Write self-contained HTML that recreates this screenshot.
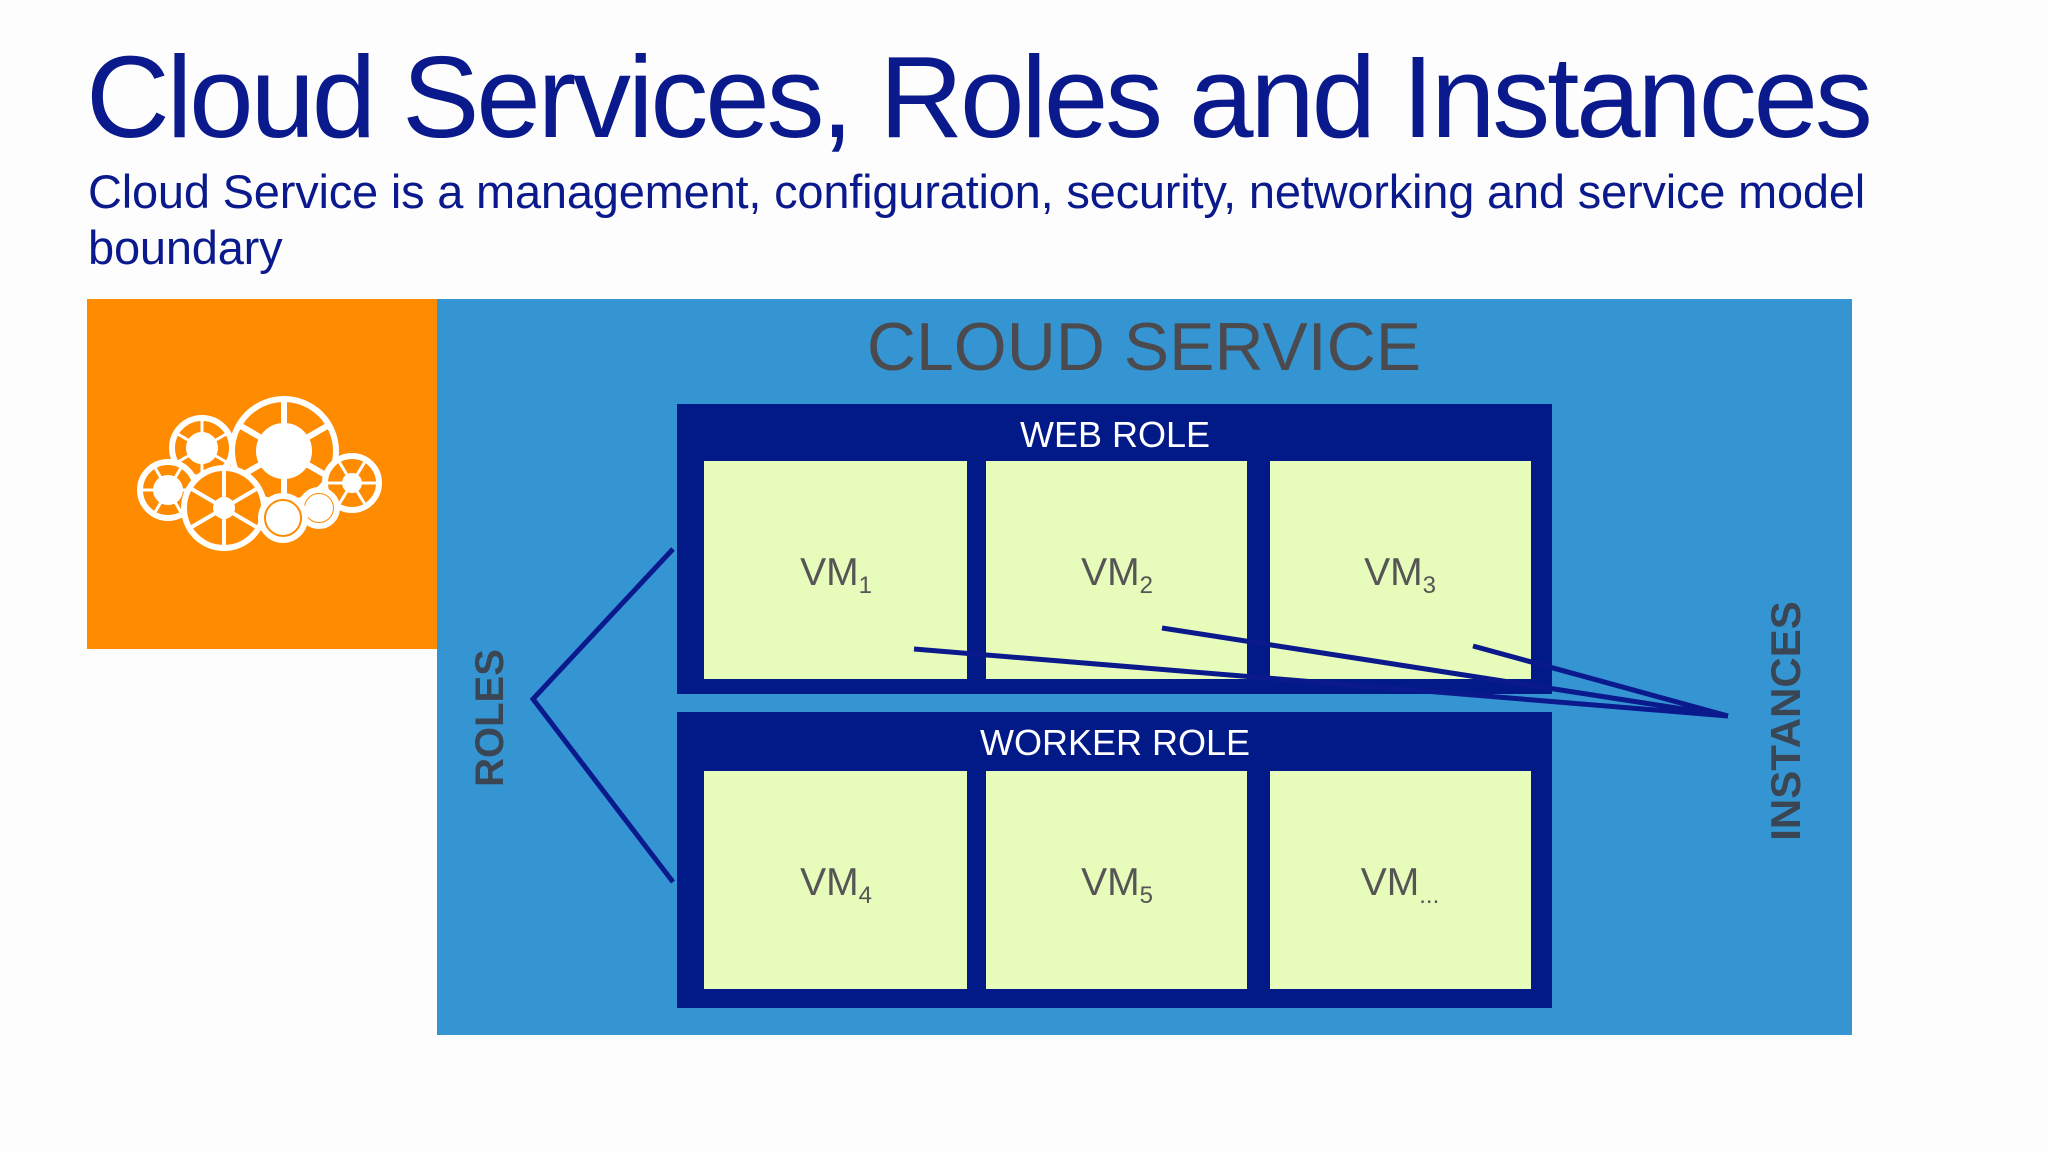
<!DOCTYPE html>
<html><head><style>
body{margin:0;width:2048px;height:1152px;background:#fdfdfd;position:relative;overflow:hidden;font-family:"Liberation Sans",Arial,sans-serif}
.t{position:absolute;color:#0a1a8c;white-space:nowrap}
</style></head><body>
<div class="t" style="left:86px;top:30px;font-size:116px;letter-spacing:-3.2px">Cloud Services, Roles and Instances</div>
<div class="t" style="left:88px;top:164px;font-size:47px;letter-spacing:-0.2px;line-height:56px">Cloud Service is a management, configuration, security, networking and service model<br>boundary</div>
<svg width="2048" height="1152" style="position:absolute;left:0;top:0" font-family="Liberation Sans, DejaVu Sans, sans-serif">
<rect x="87" y="299" width="350" height="350" fill="#fe8b00"/>
<rect x="437" y="299" width="1415" height="736" fill="#3595d3"/>
<g stroke="#fff" fill="#fe8b00" stroke-width="6">
<g><circle cx="202" cy="448" r="30"/><circle cx="202" cy="448" r="13" fill="#fff"/><path d="M202 418v60M176 433l52 30M176 463l52-30" stroke-width="3"/></g>
<g><circle cx="284" cy="451" r="52"/><path d="M284 399v104M239 425l90 52M239 477l90-52" stroke-width="6"/><circle cx="284" cy="451" r="25" fill="#fff"/></g>
<g><circle cx="168" cy="490" r="28"/><path d="M140 490h56M154 466l28 48M154 514l28-48" stroke-width="3"/><circle cx="168" cy="490" r="12" fill="#fff"/></g>
<g><circle cx="352" cy="483" r="27"/><path d="M325 483h54M338 460l28 46M338 506l28-46" stroke-width="3"/><circle cx="352" cy="483" r="7" fill="#fff"/></g>
<g><circle cx="224" cy="508" r="40"/><path d="M224 468v80M190 488l68 40M190 528l68-40" stroke-width="4"/><circle cx="224" cy="508" r="8" fill="#fff"/></g>
<g><circle cx="319" cy="508" r="18"/><circle cx="319" cy="508" r="11" fill="#fff"/></g>
<g><circle cx="283" cy="518" r="22"/><circle cx="283" cy="518" r="14" fill="#fff"/></g>
</g>
<text x="1144" y="370" font-size="68" fill="#4b4b4f" text-anchor="middle">CLOUD SERVICE</text>
<rect x="677" y="404" width="875" height="290" fill="#021a88"/>
<rect x="677" y="712" width="875" height="296" fill="#021a88"/>
<text x="1115" y="447" font-size="36" fill="#fff" text-anchor="middle">WEB ROLE</text>
<text x="1115" y="755" font-size="36" fill="#fff" text-anchor="middle">WORKER ROLE</text>
<g fill="#e7fbba">
<rect x="704" y="461" width="263" height="218"/><rect x="986" y="461" width="261" height="218"/><rect x="1270" y="461" width="261" height="218"/>
<rect x="704" y="771" width="263" height="218"/><rect x="986" y="771" width="261" height="218"/><rect x="1270" y="771" width="261" height="218"/>
</g>
<g font-size="39" fill="#555" text-anchor="middle">
<text x="836" y="585">VM<tspan font-size="24" dy="8">1</tspan></text>
<text x="1117" y="585">VM<tspan font-size="24" dy="8">2</tspan></text>
<text x="1400" y="585">VM<tspan font-size="24" dy="8">3</tspan></text>
<text x="836" y="895">VM<tspan font-size="24" dy="8">4</tspan></text>
<text x="1117" y="895">VM<tspan font-size="24" dy="8">5</tspan></text>
<text x="1400" y="895">VM<tspan font-size="24" dy="8">...</tspan></text>
</g>
<g stroke="#0a1a8c" stroke-width="5" fill="none">
<path d="M673 549L533 699L673 882"/>
<path d="M1728 716L914 649M1728 716L1162 628M1728 716L1473 646"/>
</g>
<text transform="translate(503,718) rotate(-90)" font-size="40" font-weight="bold" fill="#3b4654" text-anchor="middle">ROLES</text>
<text transform="translate(1800,721) rotate(-90)" font-size="42" font-weight="bold" fill="#3b4654" text-anchor="middle">INSTANCES</text>
</svg>
</body></html>
